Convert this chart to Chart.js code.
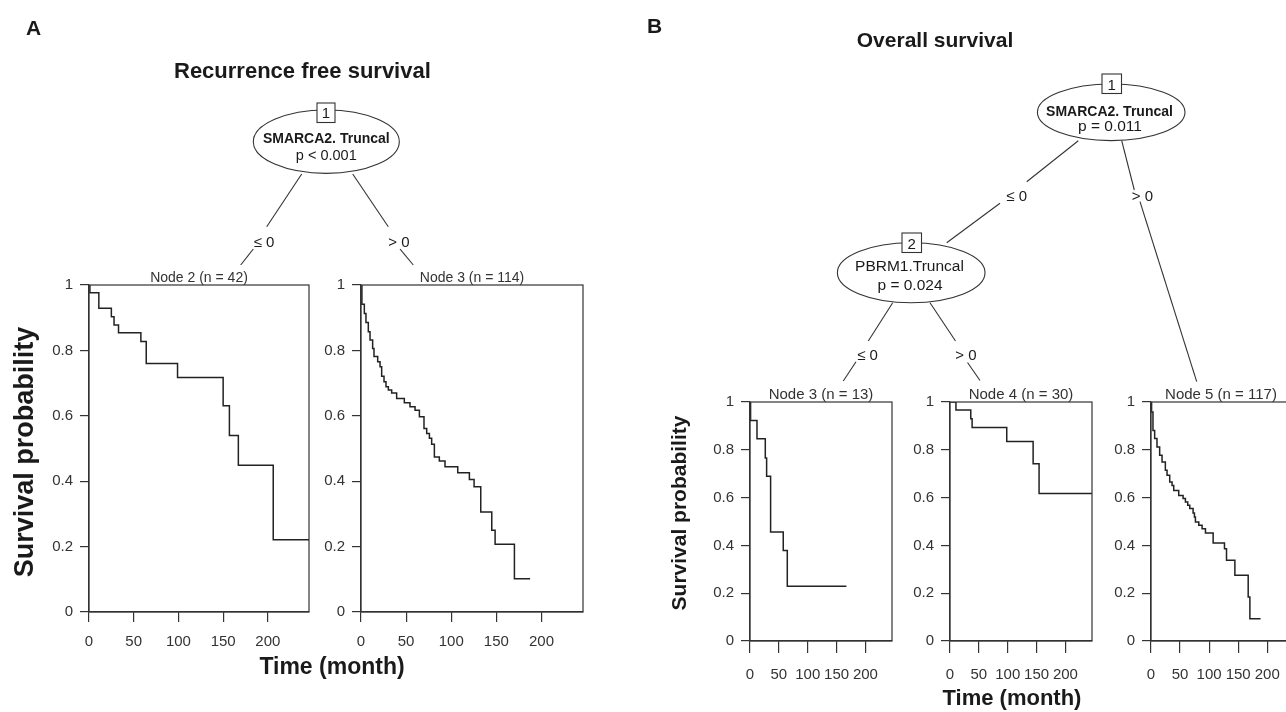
<!DOCTYPE html>
<html>
<head>
<meta charset="utf-8">
<script src="https://cdn.jsdelivr.net/npm/chart.js@4.4.0/dist/chart.umd.min.js"></script>
<style>
  html, body { margin: 0; padding: 0; background: #fff; width: 1286px; height: 712px; overflow: hidden; }
  canvas { position: absolute; }
  #tree { position: absolute; left: 0; top: 0; pointer-events: none; font-family: "Liberation Sans", Arial, sans-serif; }
</style>
</head>
<body>
<svg id="tree" width="1286" height="712" xmlns="http://www.w3.org/2000/svg">
  <g fill="#1a1a1a" font-weight="bold">
    <text x="26" y="35" font-size="21">A</text>
    <text x="647" y="33" font-size="21">B</text>
    <text x="174" y="78" font-size="22">Recurrence free survival</text>
    <text x="935" y="47" font-size="21" text-anchor="middle">Overall survival</text>
    <text x="332" y="674" font-size="23" text-anchor="middle">Time (month)</text>
    <text x="1012" y="705" font-size="22" text-anchor="middle">Time (month)</text>
    <text transform="translate(33,452) rotate(-90)" font-size="27" text-anchor="middle">Survival probability</text>
    <text transform="translate(686,513) rotate(-90)" font-size="21" text-anchor="middle">Survival probability</text>
  </g>

  <g stroke="#333" stroke-width="1.1" fill="none">
    <!-- panel A edges -->
    <line x1="301.7" y1="174" x2="266.7" y2="226.7"/>
    <line x1="253.3" y1="249" x2="240.7" y2="265"/>
    <line x1="352.7" y1="174" x2="388.3" y2="226.7"/>
    <line x1="400" y1="249" x2="413.3" y2="265"/>
    <!-- panel B edges -->
    <line x1="1078.3" y1="140.7" x2="1026.7" y2="181.7"/>
    <line x1="1000" y1="203.3" x2="946.7" y2="242.7"/>
    <line x1="1121.7" y1="140.7" x2="1134.3" y2="190"/>
    <line x1="1140" y1="201.7" x2="1196.7" y2="381.7"/>
    <line x1="892.7" y1="302.7" x2="868.3" y2="341"/>
    <line x1="856" y1="361.7" x2="843.3" y2="381"/>
    <line x1="930" y1="302.7" x2="955.5" y2="341"/>
    <line x1="967.5" y1="362.5" x2="980" y2="380.5"/>
  </g>

  <g stroke="#333" stroke-width="1.1" fill="#fff">
    <ellipse cx="326.3" cy="141.7" rx="73" ry="31.7"/>
    <rect x="317" y="103" width="18" height="19.5"/>
    <ellipse cx="1111.2" cy="112.3" rx="73.8" ry="28.3"/>
    <rect x="1102" y="74" width="19.5" height="19.5"/>
    <ellipse cx="911.2" cy="272.7" rx="73.8" ry="30"/>
    <rect x="902" y="233" width="19.5" height="19.5"/>
  </g>

  <g fill="#1a1a1a" text-anchor="middle">
    <text x="326" y="118" font-size="15">1</text>
    <text x="326.3" y="143" font-size="14" font-weight="bold">SMARCA2. Truncal</text>
    <text x="326.3" y="159.5" font-size="14.5">p &lt; 0.001</text>
    <text x="264" y="247" font-size="15">≤ 0</text>
    <text x="399" y="247" font-size="15">&gt; 0</text>

    <text x="1111.7" y="89.5" font-size="15">1</text>
    <text x="1109.5" y="115.5" font-size="14" font-weight="bold">SMARCA2. Truncal</text>
    <text x="1110" y="131" font-size="15.5">p = 0.011</text>
    <text x="1016.7" y="200.5" font-size="15">≤ 0</text>
    <text x="1142.5" y="200.5" font-size="15">&gt; 0</text>

    <text x="911.7" y="248.5" font-size="15">2</text>
    <text x="909.5" y="270.5" font-size="15.5">PBRM1.Truncal</text>
    <text x="910" y="290" font-size="15.5">p = 0.024</text>
    <text x="867.5" y="359.5" font-size="15">≤ 0</text>
    <text x="966" y="359.5" font-size="15">&gt; 0</text>
  </g>

  <g fill="#333" text-anchor="middle">
    <text x="199" y="282" font-size="14">Node 2 (n = 42)</text>
    <text x="472" y="282" font-size="14">Node 3 (n = 114)</text>
    <text x="821" y="398.5" font-size="15">Node 3 (n = 13)</text>
    <text x="1021" y="398.5" font-size="15">Node 4 (n = 30)</text>
    <text x="1221" y="398.5" font-size="15">Node 5 (n = 117)</text>
  </g>
</svg>

<script>
// Axis ticks shared by every panel
var xTicks = [0, 50, 100, 150, 200];
var yTicks = [0, 0.2, 0.4, 0.6, 0.8, 1];
var yTickLabels = ['0', '0.2', '0.4', '0.6', '0.8', '1'];
var timeMax = 246;

// A: Recurrence free survival
var rfsNode2Time = [0, 1, 11, 25, 28, 33, 58, 64, 99, 150, 157, 167, 206, 246];
var rfsNode2Surv = [1, 0.976, 0.929, 0.903, 0.878, 0.854, 0.827, 0.760, 0.717, 0.631, 0.540, 0.449, 0.221, 0.221];

var rfsNode3Time = [0, 1, 3.7, 5.5, 8.1, 10, 12.9, 14.4, 18.5, 21.1, 22.9, 25.5, 27.7, 30.3, 34, 39.5, 48, 54.3,
  59.9, 64.7, 69.8, 72.8, 75.8, 78.3, 81.3, 86.8, 93.1, 107.2, 120.1, 125.3, 132.7, 144.9, 148.6, 170, 187.4];
var rfsNode3Surv = [1, 0.941, 0.913, 0.885, 0.857, 0.832, 0.806, 0.781, 0.765, 0.750, 0.721, 0.704, 0.689, 0.679, 0.670,
  0.653, 0.640, 0.628, 0.617, 0.597, 0.561, 0.546, 0.531, 0.513, 0.474, 0.462, 0.444, 0.426, 0.405, 0.383, 0.306,
  0.250, 0.207, 0.102, 0.102];

// B: Overall survival
var osNode3Time = [0, 1, 12.1, 26.5, 28.8, 35.7, 57.6, 64.6, 167];
var osNode3Surv = [1, 0.923, 0.846, 0.766, 0.689, 0.456, 0.379, 0.229, 0.229];

var osNode4Time = [0, 10.3, 36, 38.3, 98.3, 144, 154.3, 246];
var osNode4Surv = [1, 0.967, 0.930, 0.893, 0.835, 0.742, 0.617, 0.617];

var osNode5Time = [0, 1, 3.4, 6.3, 10.3, 14.9, 19, 24.7, 27.6, 32.2, 36.2, 39.1, 47.7, 55.2, 59.2, 63.2, 66.7, 72.4,
  74.7, 76.4, 82.2, 87.9, 93.7, 106.9, 126.4, 129.9, 144.3, 167.2, 170.1, 188.5];
var osNode5Surv = [1, 0.958, 0.881, 0.847, 0.812, 0.777, 0.749, 0.714, 0.693, 0.665, 0.651, 0.630, 0.609, 0.596,
  0.582, 0.568, 0.554, 0.536, 0.519, 0.498, 0.484, 0.470, 0.452, 0.410, 0.386, 0.338, 0.275, 0.184, 0.093, 0.093];

var PAD_L = 80, PAD_T = 20, PAD_R = 10, PAD_B = 55;
var FONT = '"Liberation Sans", Arial, sans-serif';
var INK = '#333';

// box round the plot region, like R's box()
var framePlugin = {
  id: 'frame',
  afterDatasetsDraw: function (chart) {
    var a = chart.chartArea, ctx = chart.ctx;
    ctx.save();
    ctx.strokeStyle = INK;
    ctx.lineWidth = 1.2;
    ctx.strokeRect(a.left, a.top, a.right - a.left, a.bottom - a.top);
    ctx.restore();
  }
};

function kmPanel(rect, times, surv, xTickLen, xPad) {
  var c = document.createElement('canvas');
  var w = rect.w + PAD_L + PAD_R, h = rect.h + PAD_T + PAD_B;
  c.width = w; c.height = h;
  c.style.width = w + 'px'; c.style.height = h + 'px';
  c.style.left = (rect.x - PAD_L) + 'px';
  c.style.top = (rect.y - PAD_T) + 'px';
  document.body.insertBefore(c, document.getElementById('tree'));

  var pts = times.map(function (t, i) { return { x: t, y: surv[i] }; });

  return new Chart(c.getContext('2d'), {
    type: 'line',
    // horizontal first, then the drop: Kaplan-Meier steps
    data: { datasets: [{ data: pts, stepped: 'before', borderColor: '#222', borderWidth: 1.5, pointRadius: 0, fill: false }] },
    options: {
      responsive: false,
      animation: false,
      devicePixelRatio: 1,
      layout: { padding: { top: PAD_T, right: PAD_R, left: 0, bottom: 0 } },
      plugins: { legend: { display: false }, tooltip: { enabled: false } },
      scales: {
        x: {
          type: 'linear', min: 0, max: timeMax,
          afterBuildTicks: function (s) { s.ticks = xTicks.map(function (v) { return { value: v }; }); },
          afterFit: function (s) { s.height = PAD_B; },
          ticks: { autoSkip: false, maxRotation: 0, padding: xPad, color: INK, font: { family: FONT, size: 15 },
                   callback: function (v) { return String(v); } },
          grid: { drawOnChartArea: false, drawTicks: true, tickLength: xTickLen, color: INK, lineWidth: 1.2 },
          border: { display: true, color: INK, width: 1.2 }
        },
        y: {
          type: 'linear', min: 0, max: 1,
          afterBuildTicks: function (s) { s.ticks = yTicks.map(function (v) { return { value: v }; }); },
          afterFit: function (s) { s.width = PAD_L; },
          ticks: { autoSkip: false, padding: 7, color: INK, font: { family: FONT, size: 15 },
                   callback: function (v, i) { return yTickLabels[i]; } },
          grid: { drawOnChartArea: false, drawTicks: true, tickLength: 9, color: INK, lineWidth: 1.2 },
          border: { display: true, color: INK, width: 1.2 }
        }
      }
    },
    plugins: [framePlugin]
  });
}

kmPanel({ x: 89, y: 285, w: 220, h: 327 }, rfsNode2Time, rfsNode2Surv, 10, 11);
kmPanel({ x: 361, y: 285, w: 222, h: 327 }, rfsNode3Time, rfsNode3Surv, 10, 11);
kmPanel({ x: 750, y: 402, w: 142, h: 239 }, osNode3Time, osNode3Surv, 12, 13);
kmPanel({ x: 950, y: 402, w: 142, h: 239 }, osNode4Time, osNode4Surv, 12, 13);
kmPanel({ x: 1151, y: 402, w: 143, h: 239 }, osNode5Time, osNode5Surv, 12, 13);
</script>
</body>
</html>
